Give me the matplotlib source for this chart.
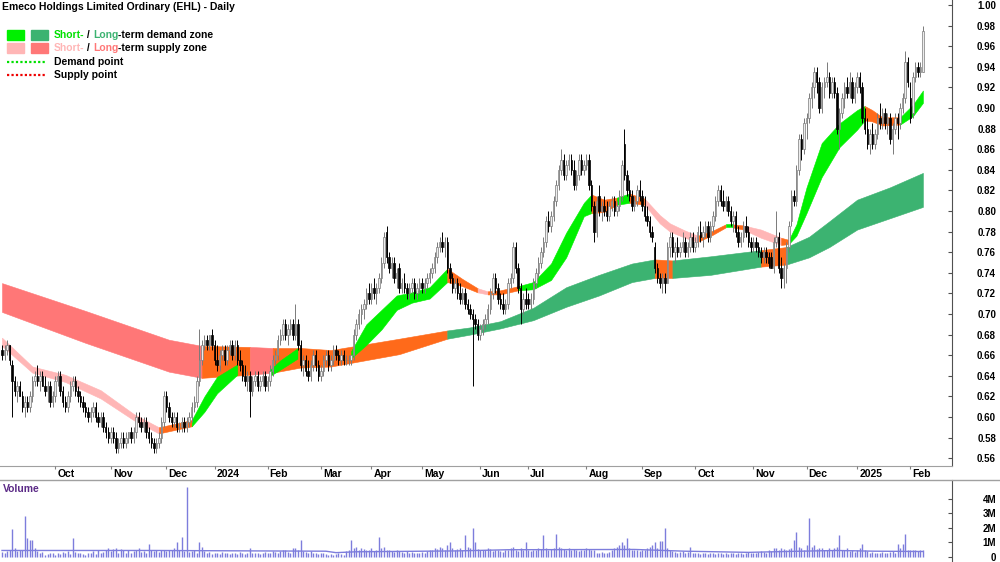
import numpy as np
import pandas as pd
import matplotlib
matplotlib.use('Agg')
import matplotlib.pyplot as plt
from matplotlib.lines import Line2D
from matplotlib.patches import Rectangle
import matplotlib.transforms as mtrans

plt.rcParams['font.family'] = ['Liberation Sans', 'DejaVu Sans']

# ---------------- data ----------------
holidays = ['2023-12-25', '2023-12-26', '2024-01-01', '2024-01-26', '2024-03-29',
            '2024-04-01', '2024-04-25', '2024-06-10', '2024-12-25', '2024-12-26',
            '2025-01-01', '2025-01-27']
dates = pd.bdate_range('2023-09-01', '2025-02-10')
dates = dates[~dates.isin(pd.to_datetime(holidays))]

# prices in cents
opens = [
 66.5,66,66.5,67,65,63.5,62.5,63,62,61, 61.5,61,62,63.5,64,63.5,64,63,62.5,63,
 61.5,62,63.5,64,62.5,61.5,61,62,63,63.5, 62.5,62,61.5,61,60.5,60,60.5,61,60,59.5,
 60,59,58.5,58,58.5,58,57,57.5,58,57.5, 58,58.5,58,58.5,60,59.5,59,59.5,58.5,58,
 57.5,57,57.5,58,59.5,62,61,60,59.5,60, 59,59,59.5,59,59.5,60,61,61.5,63.5,65.5,
 67,67.5,67,68,67,65.5,65,66,66.5,65.5, 66.5,67,66,67,65.5,65,64,63.5,64,62.5,
 63.5,64,63,63.5,64,63,63.5,64.5,65.5,66, 67.5,68,69,68,68.5,69,68,69,67,65,
 65.5,64.5,64,65,66,65,64,64.5,65.5,66, 65,65.5,66.5,66,65.5,66,65.5,65.5,65.5,66,
 68,69,70,70.5,71,72,71.5,72.5,72,72.5, 73.5,75,78,75.5,74.5,75,73.5,74.5,72.5,73,
 72.5,72,72.5,73,72,72.5,73,72.5,73,73.5, 74,74.5,75.5,76.5,77,76.5,77,74.5,73.5,72.5,
 73,72,71.5,72,71,70.5,70,69.5,69,68, 68.5,69,69.5,70.5,72,73.5,72.5,71.5,71,70.5,
 71,73,73.5,76.5,74.5,72.5,70.5,71.5,71.5,71, 71.5,73,74,75,76,77,79,78.5,79.5,81,
 82.5,84,85,83.5,84.5,85,84,82.5,83.5,85, 84,84.5,85,82.5,80.5,78,81.5,80,80.5,80,
 79.5,80.5,81,80,80.5,81.5,86.5,83.5,82,81.5, 80.5,81,82,81.5,80.5,79.5,79,78,76.5,74.5,
 73.5,73,73.5,73,76.5,77.5,76,76.5,76,76.5, 77,76,76.5,77.5,76.5,77,78,77.5,78,78.5,
 77.5,78.5,79.5,81,82,81,80.5,81,80,79, 79.5,78,77,77.5,78.5,78,77,76.5,77,76.5,
 76,75.5,76,75.5,75.5,74.5,77,77.5,74.5,73.5, 74.5,76.5,79,81.5,81,84,87,86,88.5,89,
 91,92,93.5,92.5,90,92,92.5,93,91.5,92.5, 91.5,88,89.5,91,92,91.5,92.5,91,92,93,
 92,89,88,86.5,87.5,86.5,87.5,89,88.5,89.5, 88.5,89,87,88,89,88.5,90,91,94.5,91,
 89.5,93,94,93.5,93.5]
highs = [
 67,67,67.5,67,65.5,64,63.5,63.5,62.5,62, 62,62.5,64,64.5,65,64.5,64.5,64,63.5,63.5,
 62.5,64,64.5,64.5,63,62,62.5,63.5,64,64, 63,62.5,62,61.5,61,61,61.5,61.5,60.5,60.5,
 60.5,59.5,59,59,59,58.5,58,58.5,58.5,58.5, 58.5,59,59,60.5,60.5,60,60,60,59,58.5,
 58,58,58.5,60,62.5,62.5,61.5,60.5,60.5,60.5, 59.5,60,60,60,60.5,61.5,62,64,68.5,67.5,
 68,68,68,68.5,67.5,67,66.5,67,67,67, 67.5,67.5,67.5,67.5,66.5,65.5,65,64.5,64.5,64,
 64.5,64.5,64,64.5,64.5,64,65,66,66.5,68, 68.5,69.5,69.5,69,69.5,69.5,71,69.5,67.5,66,
 66,65.5,65.5,66.5,66.5,65.5,65,66,66.5,66.5, 66,67,67,66.5,66.5,66.5,66,66,66,68.5,
 69.5,70.5,71,71.5,72.5,73,73,73.5,73,74, 75.5,78,78.5,76,75.5,75.5,74.5,75,73.5,74,
 73,73,73.5,73.5,73,73.5,73.5,73.5,74,74.5, 75,76,77,77.5,78,77.5,77.5,75,74,73.5,
 73.5,73,72.5,72.5,71.5,71,70.5,70,69.5,69, 69.5,70,71,72.5,74,74,73,72,72,71.5,
 73.5,74,77,77,75,73,72,72.5,72,72, 73.5,74.5,75.5,76.5,77.5,79.5,80,80,81.5,83,
 84.5,86,85.5,85,85.5,85.5,85,84,85.5,85.5, 85,85.5,85.5,83,81,81.5,82.5,81,81.5,81,
 81,81.5,81.5,81,82,85,88,84,83,82, 81.5,82.5,83,82,81.5,80.5,79.5,78.5,77,75,
 74,74,74,77,78,78,77,77.5,77,78, 77.5,77,78,78,77.5,78.5,79,78.5,79,79,
 79,80,81.5,82.5,82.5,82,81.5,81.5,80.5,80, 80,78.5,78,79,79.5,78.5,77.5,77.5,77.5,77,
 76.5,76.5,76.5,76,76,77.5,80,78,75.5,75, 77,79,82,82,84.5,87.5,87.5,89,89.5,91.5,
 92.5,94,94,93,92.5,93,94.5,93.5,93,93, 92,90,91.5,92.5,93,93.5,93,92.5,93.5,93.5,
 92.5,90,89,88,88.5,88,89.5,90.5,90,90, 89.5,89.5,88.5,89.5,89.5,90.5,91.5,95.5,95,92.5,
 93.5,94.5,94.5,94.5,98]
lows = [
 65.5,65.5,66,65,60,62,61.5,62,60.5,60, 60.5,60.5,61.5,63,63,62.5,63,62,61.5,61,
 61,61.5,63,62,61,60.5,60.5,61.5,62.5,62, 61.5,61,60.5,60,59.5,59.5,60,59.5,59,59,
 58.5,58,57.5,57.5,57.5,56.5,56.5,57,57,57, 57.5,57.5,57.5,58,59,58.5,58.5,58,57.5,57,
 56.5,56.5,57,57.5,59,60.5,59.5,59,59,58.5, 58.5,58.5,58.5,58.5,59,59.5,60.5,61,63,65,
 66.5,66.5,66.5,66.5,65,64.5,64.5,65.5,65,65, 66,65.5,65.5,65,64.5,63.5,63,62.5,60,62,
 63,62.5,62.5,63,62.5,62.5,63,64,65,65.5, 67,67.5,67.5,67,68,67.5,67.5,66.5,64.5,64,
 64,63.5,63.5,64.5,64.5,63.5,63.5,64,65,64.5, 64.5,65,65.5,65,65,65,65,65,65,65.5,
 67.5,68.5,69,69.5,70.5,71,71,71.5,71,72, 73,74.5,75,74,73.5,73,72.5,72,72,72,
 71.5,71.5,72,71.5,71.5,72,72,72,72.5,73, 73.5,74,75,76,76,75.5,74,73,72,72,
 71.5,71,71,70.5,70,69.5,63,68.5,67.5,67.5, 68,68.5,69,70,71.5,72,71,70.5,70,70,
 70.5,72.5,73,74,72,69,70,70.5,70.5,70.5, 71,72.5,73.5,74.5,75.5,76.5,78,78,79,80.5,
 82,83.5,83,83,84,83.5,82,82,83,83.5, 83.5,84,82,80,77,77.5,79.5,79,79.5,79,
 79,80,79.5,79.5,80,81,83,81.5,81,80, 80,80.5,81,80,79,78.5,77.5,77,74,73,
 72.5,72,72,73,75.5,75.5,75,75.5,75.5,76, 75.5,75.5,76,76,76,76.5,77,76.5,77.5,77,
 77,78,79,80.5,80.5,80,80,79.5,78.5,78, 77.5,76.5,76.5,77,77.5,76.5,76,76,76,75.5,
 75,75,75,74.5,74.5,74,76.5,74,72.5,72.5, 73,76,78.5,80.5,80.5,83.5,85,85.5,87,88.5,
 90,91,91.5,89.5,89.5,91,92,91,91,91, 87.5,86,89,90,91,91,90.5,90.5,91.5,91.5,
 88.5,87.5,86,85.5,86,86,87,88,88,88, 87.5,86.5,85.5,87.5,87,88,89.5,90.5,92,88.5,
 89,92.5,93,93,93.5]
closes = [
 66,66.5,67,65.5,63.5,62.5,63,62,61,61.5, 61,62,63.5,64,63.5,64,63,62.5,63,61.5,
 62,63.5,64,62.5,61.5,61,62,63,63.5,62.5, 62,61.5,61,60.5,60,60.5,61,60,59.5,60,
 59,58.5,58,58.5,58,57,57.5,58,57.5,58, 58.5,58,58.5,60,59.5,59,59.5,58.5,58,57.5,
 57,57.5,58,59.5,62,61,60,59.5,60,59, 59,59.5,59,59.5,60,61,61.5,63.5,65.5,67,
 67.5,67,68,67,65.5,65,66,66.5,65.5,66.5, 67,66,67,65.5,65,64,63.5,64,62.5,63.5,
 64,63,63.5,64,63,63.5,64.5,65.5,66,67.5, 68,69,68,68.5,69,68,69,67,65,65.5,
 64.5,64,65,66,65,64,64.5,65.5,66,65, 65.5,66.5,66,65.5,66,65.5,65.5,65.5,66,68,
 69,70,70.5,71,72,71.5,72.5,72,72.5,73.5, 75,77.5,75.5,74.5,75,73.5,74,72.5,73,72.5,
 72,72.5,73,72,72.5,73,72.5,73,73.5,74, 74.5,75.5,76.5,77,76.5,77,74.5,73.5,72.5,73,
 72,71.5,72,71,70.5,70,69.5,69,68,68.5, 69,69.5,70.5,72,73.5,72.5,71.5,71,70.5,71,
 73,73.5,76.5,74.5,72.5,70.5,71.5,71,71,71.5, 73,74,75,76,77,79,78.5,79.5,81,82.5,
 84,85,83.5,84.5,85,84,82.5,83.5,85,84, 84.5,85,82.5,80.5,78,81,80,80.5,80,79.5,
 80.5,81,80,80.5,81.5,84.5,83.5,82,81.5,80.5, 81,82,81.5,80.5,79.5,79,78,77.5,74.5,73.5,
 73,73.5,73,76.5,77.5,76,76.5,76,76.5,77, 76,76.5,77.5,76.5,77,78,77.5,78,78.5,77.5,
 78.5,79.5,81,82,81,80.5,81,80,79,79.5, 78,77,77.5,78.5,78,77,76.5,77,76.5,76,
 75.5,76,75.5,75,74.5,77,77.5,74.5,73.5,74.5, 76.5,78.5,81.5,81,84,87,86,88.5,89,91,
 92,93.5,92.5,90,92,92.5,93,91.5,92.5,91.5, 88,89.5,91,92,91.5,92.5,91,92,93,92,
 89,88,86.5,87.5,86.5,87.5,89,88.5,89.5,88.5, 89,87,88,89,88.5,90,91,94.5,92.5,89,
 93,94,93.5,94,97.5]

# volume in millions
volumes = [
 .35,.3,.4,.5,1.9,.6,.4,.45,.5,2.8, 1.3,1.2,1.2,.6,.4,.3,.35,.15,.2,.3,
 .25,.15,.3,.2,.35,.3,.4,.2,1.3,.35, .25,.3,.2,.15,.3,.25,.4,.2,.45,.3,
 .35,.5,.6,.4,.55,.6,.3,.55,.45,.3, .45,.3,.4,.5,.6,.35,.4,.3,.9,.45,
 .4,.5,.35,.45,.5,.4,.45,.5,.6,1.0, .45,1.4,.4,4.8,.35,.4,.5,.3,1.0,.7,
 .4,.3,.35,.2,.3,.25,.2,.35,.3,.25, .2,.3,.25,.2,.35,.3,.2,.25,.6,.3,
 .25,.3,.2,.3,.35,.25,.3,.4,.35,.3, .4,.5,.45,.35,.3,.6,.6,.45,1.2,.4,
 .35,.3,.4,.25,.3,.2,.3,.25,.2,.15, .2,.15,.2,.25,.2,.15,.4,.5,1.2,.6,
 .7,.5,.6,.55,.5,.45,.6,.4,.5,1.4, .6,.7,.5,.45,.4,.35,.5,.4,.35,.3,
 .4,.3,.35,.3,.25,.3,.35,.3,.4,.5, .45,.6,.55,.7,.65,.5,.8,1.0,.6,.5,
 .55,.6,.5,1.5,.7,.6,2.0,1.0,.55,.5, .45,.5,.6,.55,.4,.45,.5,.4,.35,.5,
 .45,.6,.7,.5,.4,.6,.45,1.0,.5,.4, .45,.5,.6,.55,1.5,.6,.5,.55,.6,1.6,
 .7,.6,.55,.5,.6,.45,.55,.5,.4,.45, .5,.6,.55,.5,.45,.3,.25,.35,.3,.3,
 .35,.45,.6,.7,.8,1.0,.8,1.3,.6,.45, .5,.45,.4,.5,.45,.6,.7,.8,1.0,.6,
 1.1,1.1,2.0,.6,.5,.4,.35,.3,.35,.4, .3,.35,.7,.3,.25,.3,.2,.25,.3,.2,
 .25,.3,.2,.25,.3,.2,.25,.2,.3,.25, .2,.25,.3,.2,.25,.35,.3,.25,.3,.35,
 .4,.35,.3,.45,.4,.6,.65,.5,.6,.55, .5,.55,.6,1.2,1.7,.7,.6,.5,.8,2.7,
 .7,.8,.55,.6,.65,.5,.45,.6,.5,.6, .7,1.5,.5,.45,.6,.4,.5,.35,.45,.6,
 .9,.5,.4,.3,.35,.3,.25,.3,.35,.3, .3,.35,.4,.3,.9,.6,.9,1.6,.5,.45,
 .5,.45,.4,.5,.45]
vol_avg_idx = [0, 60, 100, 128, 132, 140, 180, 200, 250, 270, 295, 310, 330, 345, 364]
vol_avg = [.45, .45, .42, .40, .30, .36, .42, .50, .52, .40, .32, .38, .45, .40, .38]

# short-term zone (bar index, upper, lower, state of the segment that starts there)
st_idx = [0, 12, 25, 39, 52, 62, 75, 80, 85, 93, 106, 110, 117, 125, 133, 138, 144, 150,
          156, 162, 169, 176, 182, 188, 192, 197, 204, 210, 217, 223, 230, 233, 238, 243,
          248, 254, 260, 264, 270, 275, 281, 286, 289, 293, 300, 308, 311, 314, 318, 324,
          331, 338, 341, 344, 348, 355, 360, 364]
st_top = [.677, .649, .641, .626, .603, .590, .597, .620, .639, .651, .646, .655, .667, .664,
          .663, .664, .690, .704, .718, .721, .726, .744, .734, .725, .722, .723, .727, .731,
          .749, .779, .808, .816, .811, .813, .817, .812, .796, .788, .781, .776, .781, .787,
          .787, .786, .782, .774, .772, .787, .823, .866, .885, .898, .902, .898, .891, .891,
          .903, .917]
st_bot = [.669, .643, .634, .618, .597, .584, .591, .605, .623, .641, .640, .646, .657, .657,
          .658, .657, .670, .685, .704, .711, .715, .731, .727, .721, .719, .719, .723, .724,
          .733, .755, .795, .798, .799, .806, .808, .806, .788, .780, .774, .770, .777, .784,
          .784, .782, .774, .767, .768, .776, .798, .833, .862, .879, .888, .887, .883, .884,
          .892, .905]
st_state = ['P', 'P', 'P', 'P', 'P', 'O', 'G', 'G', 'G', 'N', 'G', 'G', 'O', 'O', 'O', 'G',
            'G', 'G', 'G', 'G', 'G', 'O', 'O', 'P', 'O', 'O', 'G', 'G', 'G', 'G', 'G', 'O',
            'O', 'G', 'O', 'P', 'P', 'P', 'P', 'O', 'O', 'G', 'O', 'P', 'P', 'O', 'G', 'G',
            'G', 'G', 'G', 'G', 'O', 'O', 'O', 'G', 'G', 'G']

# long-term zone
lt_idx = [0, 33, 66, 79, 98, 107, 118, 130, 157, 176, 185, 197, 210, 223, 236, 249, 258,
          265, 280, 300, 310, 319, 327, 338, 351, 364]
lt_top = [.730, .703, .675, .669, .668, .667, .667, .665, .676, .684, .687, .693, .706, .726,
          .738, .749, .753, .752, .756, .762, .765, .775, .790, .811, .823, .837]
lt_bot = [.702, .672, .644, .638, .641, .643, .648, .649, .661, .676, .680, .686, .694, .707,
          .718, .731, .735, .735, .738, .746, .748, .755, .765, .782, .793, .804]
lt_state = ['S', 'S', 'S', 'O', 'S', 'O', 'O', 'O', 'O', 'D', 'D', 'D', 'D', 'D', 'D', 'D',
            'O', 'D', 'D', 'O', 'D', 'D', 'D', 'D', 'D', 'D']

title = 'Emeco Holdings Limited Ordinary (EHL) - Daily'

# ---------------- figure ----------------
W, H = 1000, 562
fig = plt.figure(figsize=(W / 100, H / 100), dpi=100)
AX_R = 952 / W
ax = fig.add_axes([0, 1 - 466 / H, AX_R, 466 / H])
axd = fig.add_axes([0, (H - 480) / H, AX_R, 14 / H])
axv = fig.add_axes([0, 0, AX_R, (H - 480) / H])

n = len(closes)
xs = np.arange(n)
XL = (-0.79, 375.5)

COL = {'G': '#00f000', 'D': '#3cb371', 'P': '#ffb6b6', 'S': '#ff7777', 'O': '#ff6a1a'}


def draw_band(axis, idx, top, bot, state, z):
    idx = np.asarray(idx, float)
    top = np.asarray(top)
    bot = np.asarray(bot)
    k = 0
    m = len(idx)
    while k < m - 1:
        code = state[k]
        j = k
        while j < m - 1 and state[j] == code:
            j += 1
        if code != 'N':
            axis.fill_between(idx[k:j + 1], bot[k:j + 1], top[k:j + 1], color=COL[code],
                              ec=COL[code], lw=0.4, zorder=z)
        k = j


draw_band(ax, lt_idx, lt_top, lt_bot, lt_state, 1)
draw_band(ax, st_idx, st_top, st_bot, st_state, 2)

o = np.array(opens) / 100
h = np.array(highs) / 100
l = np.array(lows) / 100
c = np.array(closes) / 100
up = c >= o
ax.vlines(xs[up], l[up], h[up], color='#7a7a7a', lw=0.7, zorder=3)
ax.vlines(xs[~up], l[~up], h[~up], color='black', lw=0.7, zorder=3)
ax.bar(xs[up], (c - o)[up], bottom=o[up], width=0.58, color='#ececec',
       edgecolor='#7a7a7a', lw=0.5, zorder=4)
ax.bar(xs[~up], (c - o)[~up], bottom=o[~up], width=0.58, color='black',
       edgecolor='black', lw=0.5, zorder=4)

ax.set_xlim(*XL)
ax.set_ylim(0.5524, 1.0049)
ax.set_xticks([])
ax.yaxis.tick_right()
yt = np.round(np.arange(0.56, 1.0001, 0.02), 2)
ax.set_yticks(yt)
ax.set_yticklabels([f'{v:.2f}' for v in yt], fontweight='bold', fontsize=7)
ax.tick_params(axis='y', direction='in', length=3, pad=31.7, color='#505050')
for t in ax.get_yticklabels():
    t.set_horizontalalignment('right')
for s in ('left', 'top'):
    ax.spines[s].set_visible(False)
ax.spines['bottom'].set_color('#a0a0a0')
ax.spines['right'].set_color('#505050')

# date strip
axd.set_xlim(*XL)
axd.set_ylim(0, 1)
axd.axis('off')
month_first = pd.Series(xs, index=dates).groupby([dates.year, dates.month]).min()
off = mtrans.ScaledTranslation(2 / 100, 0, fig.dpi_scale_trans)
for (yr, mo), i in month_first.items():
    if i == 0:
        continue
    lab = str(yr) if mo == 1 else pd.Timestamp(year=yr, month=mo, day=1).strftime('%b')
    axd.vlines(i, 0.8, 1.0, color='#808080', lw=0.8)
    axd.text(i, 0.45, lab, ha='left', va='center', fontweight='bold', fontsize=7.5,
             transform=axd.transData + off)

# volume
vcol = '#7d7ddc'
axv.vlines(xs, 0, volumes, color=vcol, lw=1.0)
axv.plot(vol_avg_idx, vol_avg, color=vcol, lw=1.0)
axv.set_xlim(*XL)
axv.set_ylim(-0.345, 5.31)
axv.set_xticks([])
axv.yaxis.tick_right()
axv.set_yticks([0, 1, 2, 3, 4])
axv.set_yticklabels(['0', '1M', '2M', '3M', '4M'], fontweight='bold', fontsize=7)
axv.tick_params(axis='y', direction='in', length=3, pad=31.7, color='#505050')
for t in axv.get_yticklabels():
    t.set_horizontalalignment('right')
for s in ('left', 'top', 'bottom'):
    axv.spines[s].set_visible(False)
axv.spines['right'].set_color('#505050')
fig.add_artist(Line2D([0, 1], [(H - 480) / H] * 2, color='#a0a0a0', lw=1.0))
fig.text(3 / W, 1 - 489 / H, 'Volume', color='#5b2a86', fontweight='bold',
         fontsize=7.5, va='center', ha='left')

# title and legend
fig.text(2 / W, 1 - 7 / H, title, fontweight='bold', fontsize=7.5, va='center', ha='left')
renderer = fig.canvas.get_renderer()


def rich(x_px, y_px, pieces):
    x = x_px
    for s, col in pieces:
        t = fig.text(x / W, 1 - y_px / H, s, color=col, va='center', ha='left',
                     fontweight='bold', fontsize=7.5)
        x += t.get_window_extent(renderer).width


for (y0, c1, c2) in [(35, COL['G'], COL['D']), (48, COL['P'], COL['S'])]:
    fig.add_artist(Rectangle((7 / W, 1 - (y0 + 5) / H), 17 / W, 10 / H, color=c1,
                             transform=fig.transFigure))
    fig.add_artist(Rectangle((31 / W, 1 - (y0 + 5) / H), 17 / W, 10 / H, color=c2,
                             transform=fig.transFigure))
rich(54, 35, [('Short-', '#00e000'), (' / ', 'black'), ('Long', COL['D']),
              ('-term demand zone', 'black')])
rich(54, 48, [('Short-', COL['P']), (' / ', 'black'), ('Long', COL['S']),
              ('-term supply zone', 'black')])
fig.add_artist(Line2D([7 / W, 45 / W], [1 - 62 / H] * 2, color='#00e000', lw=1.6,
                      ls=(0, (1, 1))))
fig.add_artist(Line2D([7 / W, 45 / W], [1 - 75 / H] * 2, color='#ee0000', lw=1.6,
                      ls=(0, (1, 1))))
fig.text(54 / W, 1 - 62 / H, 'Demand point', fontweight='bold', fontsize=7.5,
         va='center', ha='left')
fig.text(54 / W, 1 - 75 / H, 'Supply point', fontweight='bold', fontsize=7.5,
         va='center', ha='left')

fig.savefig('out.png', dpi=100)
